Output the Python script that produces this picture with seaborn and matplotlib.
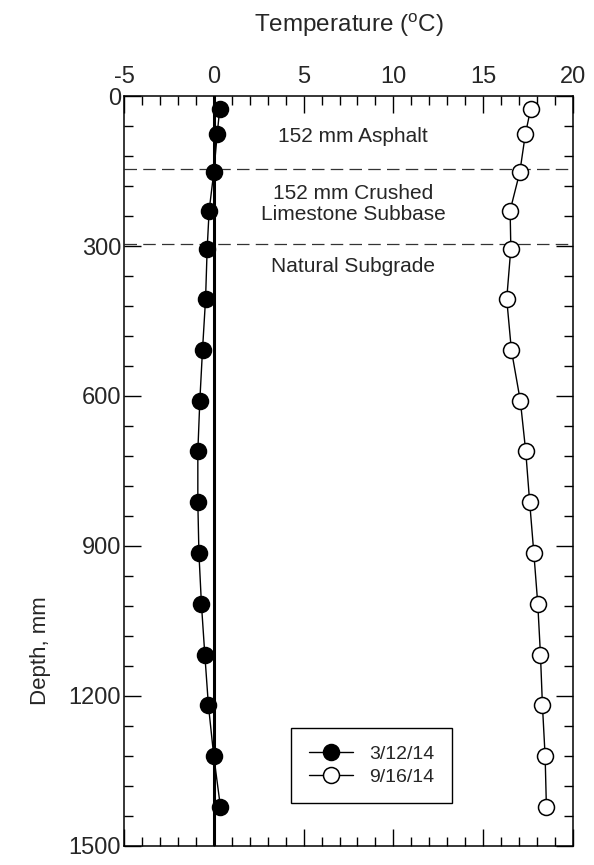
import matplotlib
matplotlib.use("Agg")
import matplotlib.pyplot as plt
import seaborn as sns
import pandas as pd
from matplotlib.ticker import MultipleLocator

# depth below surface (mm) and measured temperatures (deg C)
depth = [25, 76, 152, 229, 305, 406, 508, 610, 711, 813, 914, 1016, 1118, 1219, 1321, 1422]
temp_mar = [0.33, 0.19, 0.0, -0.26, -0.37, -0.46, -0.63, -0.78, -0.89, -0.89,
            -0.83, -0.69, -0.50, -0.30, 0.0, 0.37]
temp_sep = [17.65, 17.35, 17.04, 16.50, 16.54, 16.31, 16.57, 17.07, 17.37, 17.59,
            17.82, 18.04, 18.19, 18.30, 18.45, 18.52]
dates = ["3/12/14", "9/16/14"]

layer_bounds = [145, 295]
layer_labels = ["152 mm Asphalt", "152 mm Crushed\nLimestone Subbase", "Natural Subgrade"]
layer_label_depth = [80, 216, 340]

df = pd.DataFrame({
    "depth": depth * 2,
    "temp": temp_mar + temp_sep,
    "date": [dates[0]] * len(depth) + [dates[1]] * len(depth),
})

sns.set_theme(style="ticks")
plt.rcParams["font.family"] = ["Liberation Sans", "DejaVu Sans"]
plt.rcParams["axes.linewidth"] = 1.1
plt.rcParams["axes.unicode_minus"] = False

fig = plt.figure(figsize=(5.94, 8.65), dpi=100)
ax = fig.add_axes([0.2088, 0.022, 0.7558, 0.867])

face = {dates[0]: "black", dates[1]: "white"}
for d in dates:
    sub = df[df["date"] == d]
    sns.lineplot(data=sub, x="temp", y="depth", orient="y", sort=False, ax=ax,
                 color="black", lw=1.0, marker="o", markersize=11.5,
                 markerfacecolor=face[d], markeredgecolor="black",
                 markeredgewidth=1.1, label=d)

# zero reference line
ax.axvline(0, color="black", lw=2.2, zorder=1)

for b in layer_bounds:
    ax.axhline(b, color="#333333", lw=0.9, ls=(0, (10, 5)), zorder=0)

for lbl, yv in zip(layer_labels, layer_label_depth):
    ax.text(7.75, yv, lbl, ha="center", va="center", fontsize=15, linespacing=1.1)

ax.set_xlim(-5, 20)
ax.set_ylim(1500, 0)
ax.xaxis.set_major_locator(MultipleLocator(5))
ax.xaxis.set_minor_locator(MultipleLocator(1))
ax.yaxis.set_major_locator(MultipleLocator(300))
ax.yaxis.set_minor_locator(MultipleLocator(60))
ax.tick_params(which="both", direction="in", top=True, bottom=True, left=True, right=True,
               labeltop=True, labelbottom=False, color="black", width=1.0)
ax.tick_params(which="major", length=12, labelsize=17)
ax.tick_params(axis="x", which="major", pad=6)
ax.tick_params(axis="y", which="major", pad=2)
ax.tick_params(which="minor", length=6.5)
ax.xaxis.set_label_position("top")
ax.set_xlabel("Temperature ($\\mathregular{^{o}}$C)", fontsize=17.5, labelpad=24)
ax.set_ylabel("Depth, mm", fontsize=16)
ax.yaxis.set_label_coords(-0.162, 0.261)
for s in ax.spines.values():
    s.set_color("black")

leg = ax.legend(loc="lower left", bbox_to_anchor=(0.372, 0.057), borderaxespad=0,
                fontsize=14, handlelength=2.3, fancybox=False, framealpha=1,
                edgecolor="black", borderpad=0.9, labelspacing=0.25)
leg.get_frame().set_linewidth(1.0)

fig.savefig("out.png", dpi=100)
